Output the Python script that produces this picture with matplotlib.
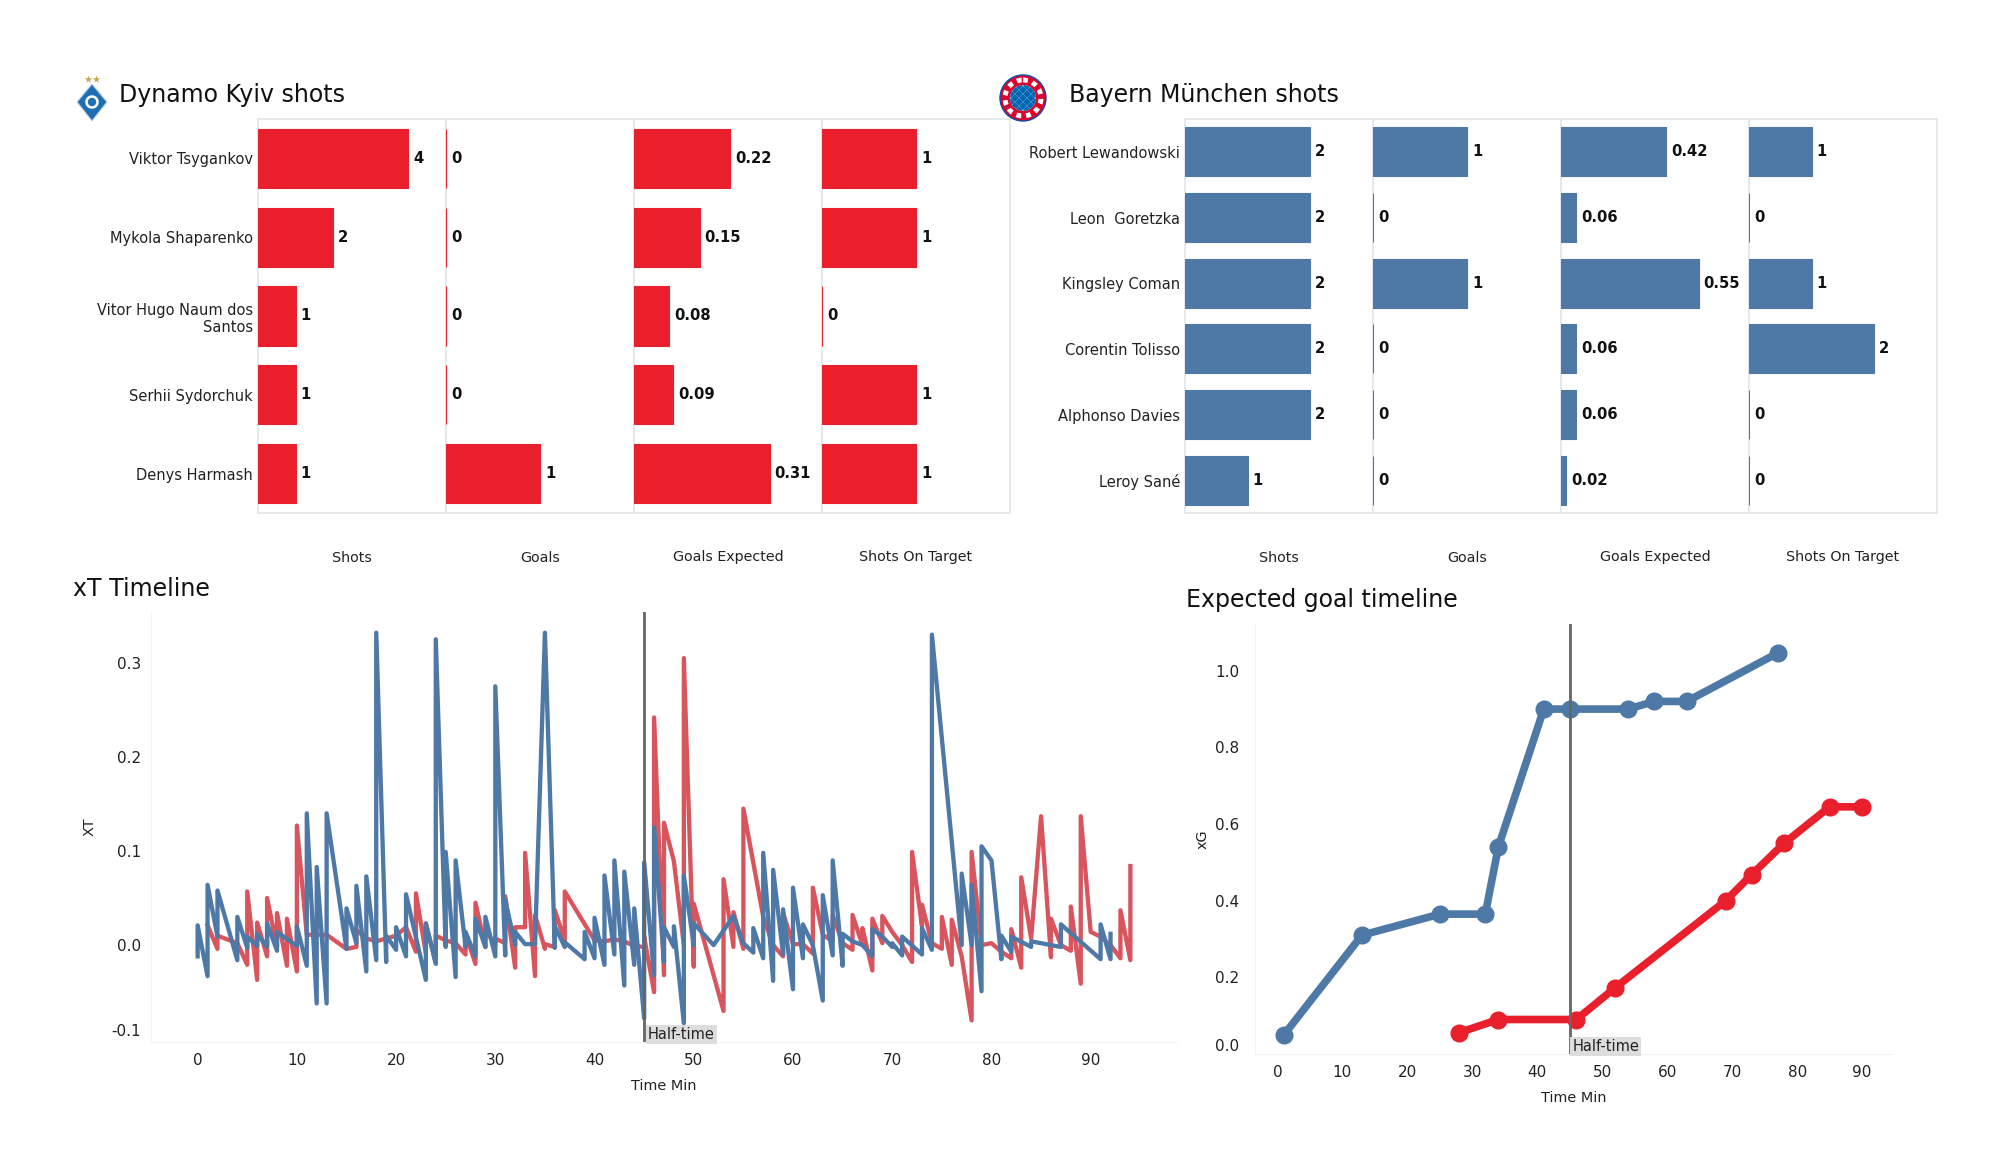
#!/usr/bin/env python3

# plot.py
#
# Match report dashboard: shots per player, xT timeline and xG timeline.
import matplotlib
matplotlib.use('Agg')
import matplotlib.pyplot as plt
from matplotlib.patches import Circle, Polygon

WIDTH, HEIGHT = 2000, 1175

RED = '#e91f2c'
SOFT_RED = '#d9555e'
BLUE = '#4e79a7'
GRID = '#e3e6ea'

COLUMNS = ['Shots', 'Goals', 'Goals Expected', 'Shots On Target']

# Dynamo Kyiv shots
kyiv_players = ['Viktor Tsygankov', 'Mykola Shaparenko', 'Vitor Hugo Naum dos\nSantos',
                'Serhii Sydorchuk', 'Denys Harmash']
kyiv_shots = [4, 2, 1, 1, 1]
kyiv_goals = [0, 0, 0, 0, 1]
kyiv_xg = [0.22, 0.15, 0.08, 0.09, 0.31]
kyiv_on_target = [1, 1, 0, 1, 1]

# Bayern shots
bayern_players = ['Robert Lewandowski', 'Leon  Goretzka', 'Kingsley Coman',
                  'Corentin Tolisso', 'Alphonso Davies', 'Leroy Sané']
bayern_shots = [2, 2, 2, 2, 2, 1]
bayern_goals = [1, 0, 1, 0, 0, 0]
bayern_xg = [0.42, 0.06, 0.55, 0.06, 0.06, 0.02]
bayern_on_target = [1, 0, 1, 2, 0, 0]

# xT timeline, red team
xt_red_min = [1, 2, 2, 4, 5, 5, 6, 6, 7, 7, 8, 8, 9, 9, 10, 10, 11, 12, 13, 15, 16, 16, 17, 18, 19, 20,
              21, 22, 22, 23, 23, 24, 24, 25, 26, 27, 27, 28, 28, 29, 29, 30, 30, 31, 31, 32, 32, 33, 33,
              34, 34, 35, 35, 36, 36, 37, 37, 40, 41, 42, 43, 44, 45, 45, 46, 46, 47, 47, 48, 49, 49,
              50, 50, 53, 53, 54, 54, 55, 55, 57, 58, 59, 59, 60, 61, 62, 62, 63, 64, 64, 65, 66, 66,
              67, 67, 68, 68, 69, 69, 70, 71, 72, 72, 73, 73, 74, 75, 75, 76, 76, 77, 78, 78, 79, 80,
              81, 82, 82, 83, 83, 84, 85, 86, 86, 87, 88, 88, 89, 89, 90, 91, 92, 93, 93, 94, 94]
xt_red_val = [.021, -.004, .010, .002, -.021, .057, -.037, .024, -.012, .050, -.002, .034, -.022, .028,
              -.028, .127, .011, .011, .011, -.004, -.002, .016, .007, .004, .007, .010,
              .019, -.007, .055, -.009, .023, -.019, .010, .005, .002, -.010, .012, -.020, .045, -.002,
              .016, .000, .007, .002, .052, -.024, .019, .019, .098,
              -.033, .032, -.004, .001, -.002, .037, .005, .057, .005, .004, .006, .004, -.001, -.002,
              .009, -.050, .242, -.032, .130, .089, .000, .305,
              -.023, .044, -.070, .070, -.002, .035, -.004, .145, .030, .000, -.012, .034, .001, .001,
              -.009, .061, .011, .004, .032, .002, -.005, .032,
              .000, .018, -.027, .028, .002, .031, .014, .000, -.018, .099, .020, .043, .002, -.004,
              .030, -.021, .027, -.012, -.080, .099, .000, .002,
              -.007, -.014, .017, -.024, .072, .007, .137, -.013, .028, .000, -.006, .041, -.041, .137,
              .014, .009, .000, -.014, .037, -.016, .084]

# xT timeline, blue team
xt_blue_min = [0, 0, 1, 1, 2, 2, 4, 4, 5, 5, 6, 6, 7, 7, 8, 8, 10, 10, 11, 11, 12, 12, 13, 13, 15, 15,
               16, 16, 17, 17, 18, 18, 19, 19, 20, 20, 21, 21, 23, 23, 24, 24, 25, 25, 26, 26, 27, 27,
               28, 28, 29, 29, 30, 30, 31, 31, 32, 32, 33, 34, 35, 36, 36, 37, 37, 39, 39, 40, 40,
               41, 41, 42, 42, 43, 43, 44, 44, 45, 45, 46, 46, 47, 47, 48, 48, 49, 49, 50, 50, 52,
               54, 55, 56, 56, 57, 57, 58, 58, 59, 59, 60, 60, 61, 61, 62, 63, 63, 64, 64, 65, 65,
               66, 67, 68, 68, 69, 70, 70, 71, 71, 73, 73, 74, 74, 77, 77, 78, 78, 79, 79, 80,
               81, 81, 82, 82, 84, 84, 87, 87, 91, 91, 92, 92]
xt_blue_val = [-.012, .021, -.033, .064, .009, .058, -.016, .030, -.003, .009, -.001, .012, -.002, .023,
               -.006, .014, -.001, .020, -.022, .140, -.062, .083, -.062, .140, -.004, .039,
               .002, .063, -.028, .073, -.016, .332, -.018, .010, -.005, .019, -.012, .054, -.037, .023,
               -.020, .325, -.002, .099, -.034, .090, -.002, .014,
               -.012, .028, -.002, .030, -.012, .275, -.011, .048, .000, .014, .001, .001, .332,
               -.003, .020, -.002, .003, -.015, .014, -.014, .029,
               -.021, .074, -.010, .090, -.043, .078, -.021, .039, -.078, .088, -.032, .125,
               -.018, .019, -.002, .020, -.083, .074, .000, .023, .000,
               .031, .002, -.008, .018, -.014, .098, -.038, .080, -.010, .038, -.047, .061, -.014, .022,
               .000, -.059, .053, -.011, .090, -.022, .012,
               .004, .000, -.012, .017, .009, -.002, .002, -.011, .009, -.010, .018, -.005, .330,
               .000, .076, .000, .064, -.049, .105, .090,
               -.015, .010, -.007, .009, -.002, .004, -.002, .022, -.015, .022, -.015, .012]

# Expected goal timeline
xg_blue_min = [1, 13, 25, 32, 34, 41, 45, 54, 58, 63, 77]
xg_blue_val = [.05, .31, .365, .365, .54, .90, .90, .90, .92, .92, 1.046]
xg_red_min = [28, 34, 46, 52, 69, 73, 78, 85, 90]
xg_red_val = [.056, .09, .09, .173, .40, .468, .55, .645, .645]


def box(left, top, right, bottom):
    return [left / WIDTH, 1 - bottom / HEIGHT, (right - left) / WIDTH, (bottom - top) / HEIGHT]


def fig_text(figure, x, y, text, size):
    figure.text(x / WIDTH, 1 - y / HEIGHT, text, fontsize=size, va='center', ha='left', color='#111111')


def shot_panels(figure, left, players, columns, limits, color, formats):
    PANEL = 188.0
    for i, values in enumerate(columns):
        ax = figure.add_axes(box(left + i * PANEL, 119, left + (i + 1) * PANEL, 513))
        ax.barh(range(len(players)), values, height=0.75, color=color, edgecolor=color,
                linewidth=0.8, zorder=3)
        ax.set_ylim(len(players) - 0.5, -0.5)
        ax.set_xlim(0, limits[i])
        ax.set_xticks([])
        ax.set_xlabel(COLUMNS[i], fontsize=10.3, labelpad=27, color='#222222')
        if i == 0:
            ax.set_yticks(range(len(players)))
            ax.set_yticklabels(players, fontsize=10.5, color='#222222')
            ax.tick_params(axis='y', length=0, pad=3.5)
        else:
            ax.set_yticks([])
        for spine in ax.spines.values():
            spine.set_color(GRID)
            spine.set_linewidth(1.2)
        for row, value in enumerate(values):
            ax.annotate(formats[i].format(value), (value, row), textcoords='offset points',
                        xytext=(3.5, 0), fontsize=10.6, fontweight='bold', va='center', color='#111111')


def timeline(ax, ylabel, yticks, half_y, tick_pad, label_pad):
    ax.axvline(45, color='#666666', linewidth=2, zorder=5)
    ax.text(45.4, half_y, 'Half-time', fontsize=10.5, va='bottom', ha='left', color='#222222', zorder=6,
            bbox=dict(facecolor='#dddddd', edgecolor='none', pad=1.5))
    ax.set_xticks(range(0, 100, 10))
    ax.set_yticks(yticks)
    ax.set_yticklabels(['{:.1f}'.format(tick) for tick in yticks])
    ax.get_yticklabels()[0].set_verticalalignment('bottom')
    ax.tick_params(length=0, labelsize=11, labelcolor='#222222', pad=8)
    ax.tick_params(axis='y', pad=tick_pad)
    ax.set_xlabel('Time Min', fontsize=10.4, color='#222222', labelpad=8)
    ax.set_ylabel(ylabel, fontsize=10.4, color='#222222', labelpad=label_pad)
    for name, spine in ax.spines.items():
        spine.set_visible(name in ('left', 'bottom'))
        spine.set_color('#f2f3f5')


def logos(figure):
    # Full-figure overlay measured in pixels, for the two club crests only
    overlay = figure.add_axes([0, 0, 1, 1], zorder=-1)
    overlay.set_xlim(0, WIDTH)
    overlay.set_ylim(HEIGHT, 0)
    overlay.axis('off')

    # Dynamo Kyiv
    overlay.add_patch(Polygon([(92, 84), (107, 102), (92, 121), (77, 102)], facecolor='#1f6fb2',
                              edgecolor='#bcd4e8', linewidth=0.8))
    overlay.add_patch(Circle((92, 102), 5.5, facecolor='none', edgecolor='#ffffff', linewidth=1.8))
    overlay.scatter([88, 96], [79, 79], marker='*', s=32, color='#c9a24b', linewidths=0)

    # Bayern
    overlay.add_patch(Circle((1023, 98), 23, facecolor='#dc052d', edgecolor='#0b4ea2', linewidth=1))
    overlay.add_patch(Circle((1023, 98), 18, facecolor='none', edgecolor='#ffffff', linewidth=3.5,
                             linestyle=(0, (1, 1))))
    inner = Circle((1023, 98), 13, facecolor='#ffffff', edgecolor='none')
    overlay.add_patch(inner)
    for col in range(-3, 4):
        for row in range(-3, 4):
            if (col + row) % 2 == 0:
                x, y = 1023 + 4 * col, 98 + 4 * row
                cell = Polygon([(x, y - 4), (x + 4, y), (x, y + 4), (x - 4, y)], facecolor='#0066b2',
                               edgecolor='none')
                overlay.add_patch(cell)
                cell.set_clip_path(inner)


def main():
    figure = plt.figure(figsize=(WIDTH / 100, HEIGHT / 100), dpi=100)
    logos(figure)

    fig_text(figure, 119, 95, 'Dynamo Kyiv shots', 17)
    fig_text(figure, 1069, 95, 'Bayern München shots', 17)
    fig_text(figure, 73, 589, 'xT Timeline', 17)
    fig_text(figure, 1186, 600, 'Expected goal timeline', 17)

    formats = ['{}', '{}', '{:.2f}', '{}']
    shot_panels(figure, 258, kyiv_players, [kyiv_shots, kyiv_goals, kyiv_xg, kyiv_on_target],
                [5, 2, 0.43, 2], RED, formats)
    shot_panels(figure, 1185, bayern_players, [bayern_shots, bayern_goals, bayern_xg, bayern_on_target],
                [3, 2, 0.75, 3], BLUE, formats)

    # xT timeline
    ax = figure.add_axes(box(151, 612, 1177, 1042))
    ax.plot(xt_red_min, xt_red_val, color=SOFT_RED, linewidth=3.1)
    ax.plot(xt_blue_min, xt_blue_val, color=BLUE, linewidth=3.1)
    ax.set_xlim(-4.7, 98.7)
    ax.set_ylim(-0.103, 0.354)
    timeline(ax, 'XT', [-0.1, 0.0, 0.1, 0.2, 0.3], -0.103, 7, 11)

    # Expected goal timeline
    ax = figure.add_axes(box(1255, 624, 1892, 1054))
    ax.plot(xg_blue_min, xg_blue_val, color=BLUE, linewidth=5.5, marker='o', markersize=12)
    ax.plot(xg_red_min, xg_red_val, color=RED, linewidth=5.5, marker='o', markersize=12)
    ax.set_xlim(-3.45, 94.6)
    ax.set_ylim(0, 1.122)
    timeline(ax, 'xG', [0.0, 0.2, 0.4, 0.6, 0.8, 1.0], 0.0, 11.5, 4)

    figure.savefig('out.png', dpi=100, facecolor='white')


if __name__ == '__main__':
    main()
